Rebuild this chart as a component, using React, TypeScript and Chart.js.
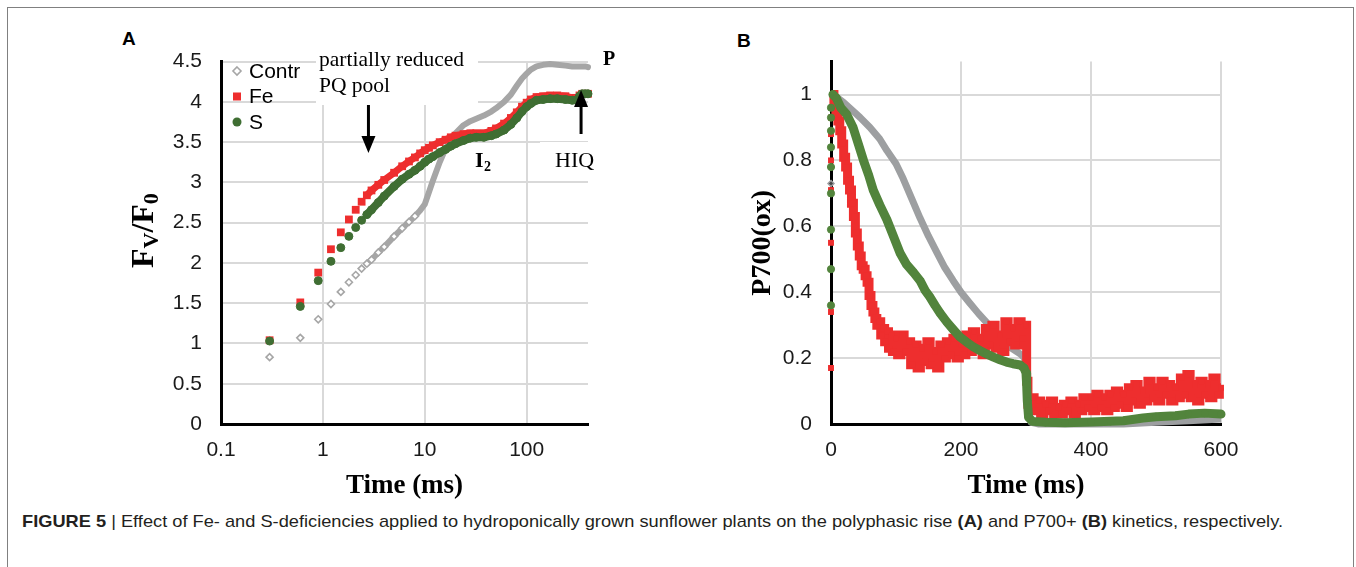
import React, { useEffect, useLayoutEffect, useRef } from 'react';
import { Chart, registerables } from 'chart.js';

Chart.register(...registerables);

const SANS = '"Liberation Sans", Arial, Helvetica, sans-serif';
const SERIF = '"Liberation Serif", "Times New Roman", Times, serif';
const GRID = '#d9d9d9';
const TICK = '#1a1a1a';

const GRAY_A = '#a6a6a6';
const RED = '#ee2e2e';
const GREEN_A = '#3f6e33';
const GRAY_B = '#9d9fa1';
const GREEN_B = '#52843c';

// ---------- Panel A: polyphasic fluorescence rise (log time) ----------
const timeA = [0.3, 0.6, 0.9, 1.2, 1.5, 1.8, 2.1, 2.4, 2.7, 3, 3.5, 4, 5, 6, 7, 8, 9, 10, 11, 12, 14, 16, 18, 20, 24, 28, 32, 38, 45, 50, 60, 70, 80, 90, 100, 110, 125, 145, 170, 200, 240, 280, 310, 330, 350, 375, 400];
const contrA = [0.83, 1.07, 1.30, 1.49, 1.64, 1.76, 1.85, 1.93, 1.99, 2.04, 2.13, 2.20, 2.33, 2.43, 2.51, 2.58, 2.65, 2.73, 2.88, 3.02, 3.25, 3.42, 3.53, 3.61, 3.71, 3.76, 3.79, 3.83, 3.88, 3.92, 4.00, 4.09, 4.20, 4.29, 4.35, 4.40, 4.44, 4.46, 4.47, 4.46, 4.45, 4.44, 4.44, 4.44, 4.44, 4.44, 4.43];
const feA = [1.04, 1.51, 1.88, 2.17, 2.38, 2.54, 2.66, 2.76, 2.84, 2.90, 2.97, 3.03, 3.12, 3.20, 3.26, 3.31, 3.36, 3.40, 3.43, 3.46, 3.50, 3.53, 3.56, 3.58, 3.60, 3.61, 3.61, 3.61, 3.64, 3.67, 3.73, 3.80, 3.87, 3.94, 3.99, 4.03, 4.06, 4.07, 4.08, 4.08, 4.07, 4.05, 4.04, 4.08, 4.10, 4.10, 4.10];
const sA = [1.03, 1.46, 1.78, 2.02, 2.19, 2.33, 2.44, 2.53, 2.60, 2.66, 2.75, 2.83, 2.95, 3.04, 3.10, 3.15, 3.20, 3.25, 3.29, 3.32, 3.37, 3.41, 3.45, 3.48, 3.52, 3.55, 3.56, 3.56, 3.58, 3.60, 3.65, 3.72, 3.80, 3.88, 3.94, 3.98, 4.02, 4.03, 4.04, 4.04, 4.03, 4.02, 4.02, 4.07, 4.10, 4.10, 4.10];
const xTicksA = [0.1, 1, 10, 100];
const arrowPQTime = 2.8;
const arrowHIQTime = 342;

// ---------- Panel B: P700 oxidation kinetics ----------
const contrBTime = [0, 3, 10, 20, 34, 45, 60, 75, 86, 100, 111, 125, 137, 150, 163, 175, 188, 200, 214, 227, 240, 252, 265, 278, 291, 298, 301, 304, 308, 320, 360, 400, 450, 500, 550, 600];
const contrB = [0.73, 1.0, 0.99, 0.975, 0.95, 0.93, 0.9, 0.865, 0.83, 0.79, 0.745, 0.68, 0.625, 0.57, 0.52, 0.475, 0.435, 0.4, 0.366, 0.335, 0.307, 0.278, 0.252, 0.23, 0.213, 0.2, 0.12, 0.03, 0.005, 0, 0, 0, 0, 0.005, 0.01, 0.015];

const feBTime = [
  0, 0, 0, 0, 0, 0, 0,
  3, 6, 9, 12, 15, 18, 21, 24, 27, 30, 33, 36, 39, 42, 45, 48, 51, 54, 57, 60, 63, 66, 69, 72, 75, 78, 81, 84, 87, 90, 93, 96,
  100, 105, 110, 115, 120, 125, 130, 135, 140, 145, 150, 155, 160, 165, 170, 175, 180, 185, 190, 195, 200, 205, 210, 215, 220, 225, 230, 235, 240, 245, 250, 255, 260, 265, 270, 275, 280, 285, 290, 295, 300,
  302, 304,
  310, 315, 320, 325, 330, 335, 340, 345, 350, 355, 360, 365, 370, 375, 380, 385, 390, 395, 400, 405, 410, 415, 420, 425, 430, 435, 440, 445, 450, 455, 460, 465, 470, 475, 480, 485, 490, 495, 500, 505, 510, 515, 520, 525, 530, 535, 540, 545, 550, 555, 560, 565, 570, 575, 580, 585, 590, 595, 600,
];
const feB = [
  0.17, 0.34, 0.55, 0.71, 0.80, 0.88, 0.93,
  1.00, 0.98, 0.95, 0.92, 0.89, 0.85, 0.81, 0.78, 0.74, 0.71, 0.67, 0.63, 0.58, 0.54, 0.51, 0.48, 0.47, 0.45, 0.43, 0.39, 0.36, 0.34, 0.32, 0.30, 0.31, 0.27, 0.29, 0.25, 0.28, 0.23, 0.27, 0.22,
  0.26, 0.21, 0.27, 0.22, 0.25, 0.18, 0.24, 0.17, 0.23, 0.19, 0.25, 0.18, 0.22, 0.17, 0.24, 0.20, 0.25, 0.21, 0.26, 0.20, 0.24, 0.21, 0.27, 0.22, 0.28, 0.23, 0.26, 0.21, 0.29, 0.24, 0.30, 0.23, 0.27, 0.22, 0.31, 0.25, 0.29, 0.24, 0.31, 0.26, 0.30,
  0.13, 0.06,
  0.08, 0.04, 0.07, 0.03, 0.06, 0.04, 0.07, 0.03, 0.05, 0.03, 0.06, 0.04, 0.07, 0.03, 0.06, 0.04, 0.08, 0.05, 0.08, 0.04, 0.09, 0.05, 0.08, 0.04, 0.09, 0.05, 0.10, 0.06, 0.09, 0.05, 0.11, 0.07, 0.12, 0.06, 0.10, 0.07, 0.13, 0.08, 0.11, 0.07, 0.13, 0.09, 0.12, 0.07, 0.11, 0.08, 0.14, 0.09, 0.15, 0.08, 0.12, 0.07, 0.13, 0.09, 0.12, 0.08, 0.14, 0.09, 0.11,
];

const sBTime = [0, 0, 0, 0, 0, 0, 0, 0, 0, 3, 8, 15, 24, 34, 42, 50, 58, 65, 75, 86, 96, 106, 116, 127, 137, 145, 152, 160, 168, 178, 188, 198, 209, 219, 229, 240, 250, 260, 270, 280, 291, 297, 300, 301, 302, 304, 310, 330, 360, 400, 430, 450, 480, 500, 530, 550, 575, 600];
const sB = [0.36, 0.47, 0.59, 0.70, 0.78, 0.84, 0.89, 0.93, 0.96, 1.0, 0.99, 0.96, 0.94, 0.9, 0.85, 0.8, 0.755, 0.71, 0.665, 0.62, 0.57, 0.52, 0.485, 0.46, 0.435, 0.405, 0.386, 0.36, 0.336, 0.31, 0.287, 0.265, 0.248, 0.234, 0.223, 0.212, 0.203, 0.195, 0.188, 0.183, 0.179, 0.17, 0.155, 0.12, 0.07, 0.02, 0.008, 0.005, 0.004, 0.006, 0.008, 0.01, 0.018, 0.022, 0.025, 0.03, 0.033, 0.03];

const legendLabels = ['Contr', 'Fe', 'S'];
const CAPTION_LEFT = 22;
const CAPTION_RIGHT = 1283;

const pts = (xs: number[], ys: number[]) => xs.map((x, i) => ({ x, y: ys[i] }));
const hideBefore = (limit: number, color: string) => ({
  borderColor: (c: any) => (c.p0.parsed.x < limit ? 'rgba(0,0,0,0)' : color),
});
const fmtTick = (v: any) => String(Math.round(Number(v) * 100) / 100);

function drawArrow(ctx: CanvasRenderingContext2D, x: number, y0: number, y1: number) {
  const dir = Math.sign(y1 - y0);
  const headLen = 16;
  const headHalf = 7;
  ctx.save();
  ctx.strokeStyle = '#000';
  ctx.fillStyle = '#000';
  ctx.lineWidth = 3;
  ctx.beginPath();
  ctx.moveTo(x, y0);
  ctx.lineTo(x, y1 - dir * headLen);
  ctx.stroke();
  ctx.beginPath();
  ctx.moveTo(x, y1);
  ctx.lineTo(x - headHalf, y1 - dir * (headLen + 1));
  ctx.lineTo(x + headHalf, y1 - dir * (headLen + 1));
  ctx.closePath();
  ctx.fill();
  ctx.restore();
}

const overlayA = {
  id: 'overlayA',
  beforeDatasetsDraw(chart: any) {
    const ctx = chart.ctx as CanvasRenderingContext2D;
    ctx.save();
    ctx.fillStyle = '#ffffff';
    ctx.fillRect(206, 8, 162, 67);
    ctx.fillRect(430, 112, 50, 36);
    ctx.restore();
  },
  afterDraw(chart: any) {
    const ctx = chart.ctx as CanvasRenderingContext2D;
    const xs = chart.scales.x;
    ctx.save();
    ctx.fillStyle = '#000';
    ctx.textAlign = 'left';
    ctx.textBaseline = 'alphabetic';
    ctx.font = `21.5px ${SERIF}`;
    ctx.fillText('partially reduced', 209, 36);
    ctx.fillText('PQ pool', 209, 62);
    ctx.font = `22px ${SERIF}`;
    ctx.fillText('HIQ', 445, 137);
    ctx.font = `bold 22px ${SERIF}`;
    ctx.fillText('I', 365, 137);
    ctx.font = `bold 14px ${SERIF}`;
    ctx.fillText('2', 374, 141);
    ctx.font = `bold 20px ${SERIF}`;
    ctx.fillText('P', 493, 35);

    drawArrow(ctx, xs.getPixelForValue(arrowPQTime), 75, 123);
    drawArrow(ctx, xs.getPixelForValue(arrowHIQTime), 104, 60);

    // legend
    const lx = 127;
    const tx = 139;
    const ly = [41, 66.5, 92];
    ctx.font = `21px ${SANS}`;
    ctx.textBaseline = 'middle';
    ctx.fillStyle = '#000';
    legendLabels.forEach((lab, i) => ctx.fillText(lab, tx, ly[i] + 1));
    ctx.strokeStyle = GRAY_A;
    ctx.lineWidth = 1.6;
    ctx.fillStyle = '#fff';
    ctx.beginPath();
    ctx.moveTo(lx, ly[0] - 4);
    ctx.lineTo(lx + 4, ly[0]);
    ctx.lineTo(lx, ly[0] + 4);
    ctx.lineTo(lx - 4, ly[0]);
    ctx.closePath();
    ctx.fill();
    ctx.stroke();
    ctx.fillStyle = RED;
    ctx.fillRect(lx - 4, ly[1] - 4, 8, 8);
    ctx.fillStyle = GREEN_A;
    ctx.beginPath();
    ctx.arc(lx, ly[2], 4.5, 0, Math.PI * 2);
    ctx.fill();

    // y title Fv/F0
    ctx.translate(43, 238);
    ctx.rotate(-Math.PI / 2);
    ctx.fillStyle = '#000';
    ctx.textBaseline = 'alphabetic';
    let x = 0;
    const big = `bold 32px ${SERIF}`;
    const small = `bold 22px ${SERIF}`;
    const part = (t: string, f: string, dy: number) => {
      ctx.font = f;
      ctx.fillText(t, x, dy);
      x += ctx.measureText(t).width;
    };
    part('F', big, 0);
    part('V', small, 5);
    part('/', big, 0);
    part('F', big, 0);
    part('0', small, 5);
    ctx.restore();
  },
};

const tickFont = { family: SANS, size: 21 };

function configA(): any {
  return {
    type: 'scatter',
    data: {
      datasets: [
        {
          label: 'S',
          data: pts(timeA, sA),
          showLine: true,
          borderColor: GREEN_A,
          borderWidth: 8,
          borderJoinStyle: 'round',
          borderCapStyle: 'round',
          segment: hideBefore(2.65, GREEN_A),
          pointStyle: 'circle',
          pointRadius: 4,
          pointBorderWidth: 1,
          pointBackgroundColor: GREEN_A,
          pointBorderColor: GREEN_A,
          clip: false,
        },
        {
          label: 'Fe',
          data: pts(timeA, feA),
          showLine: true,
          borderColor: RED,
          borderWidth: 7,
          borderJoinStyle: 'round',
          segment: hideBefore(2.65, RED),
          pointStyle: 'rect',
          pointRadius: 5.5,
          pointBorderWidth: 0,
          pointBackgroundColor: RED,
          pointBorderColor: RED,
          clip: false,
        },
        {
          label: 'Contr',
          data: pts(timeA, contrA),
          showLine: true,
          borderColor: GRAY_A,
          borderWidth: 6,
          borderJoinStyle: 'round',
          borderCapStyle: 'round',
          segment: hideBefore(2.65, GRAY_A),
          pointStyle: 'rectRot',
          pointRadius: (c: any) => (timeA[c.dataIndex] >= 9 ? 0 : 3.5),
          pointBorderWidth: 1.6,
          pointBackgroundColor: '#ffffff',
          pointBorderColor: GRAY_A,
          clip: false,
        },
      ],
    },
    options: {
      responsive: false,
      maintainAspectRatio: false,
      animation: false,
      events: [],
      layout: { padding: { left: 0, top: 20, right: 52, bottom: 0 } },
      plugins: { legend: { display: false }, tooltip: { enabled: false } },
      scales: {
        x: {
          type: 'logarithmic',
          min: 0.1,
          max: 400,
          afterBuildTicks: (s: any) => {
            s.ticks = xTicksA.map((v) => ({ value: v }));
          },
          afterFit: (s: any) => {
            s.height = 86;
          },
          ticks: {
            autoSkip: false,
            maxRotation: 0,
            font: tickFont,
            color: TICK,
            padding: 14,
            callback: (v: any) => String(v),
          },
          grid: { color: GRID, lineWidth: 2, drawTicks: false },
          border: { color: '#000', width: 3 },
          title: {
            display: true,
            text: 'Time (ms)',
            color: '#000',
            font: { family: SERIF, size: 27, weight: 'bold' },
            padding: { top: 0, bottom: 8 },
          },
        },
        y: {
          type: 'linear',
          min: 0,
          max: 4.5,
          afterFit: (s: any) => {
            s.width = 111;
          },
          ticks: { stepSize: 0.5, font: tickFont, color: TICK, padding: 19, callback: fmtTick },
          grid: { color: GRID, lineWidth: 2, drawTicks: false },
          border: { color: '#000', width: 3 },
        },
      },
    },
    plugins: [overlayA],
  };
}

function configB(): any {
  return {
    type: 'scatter',
    data: {
      datasets: [
        {
          label: 'S',
          data: pts(sBTime, sB),
          showLine: true,
          borderColor: GREEN_B,
          borderWidth: 9,
          borderJoinStyle: 'round',
          borderCapStyle: 'round',
          segment: hideBefore(0.5, GREEN_B),
          pointStyle: 'circle',
          pointRadius: 3.6,
          pointBorderWidth: 1,
          pointBackgroundColor: GREEN_B,
          pointBorderColor: GREEN_B,
          clip: false,
        },
        {
          label: 'Fe',
          data: pts(feBTime, feB),
          showLine: true,
          stepped: 'middle',
          borderColor: RED,
          borderWidth: 9,
          borderJoinStyle: 'miter',
          segment: hideBefore(0.5, RED),
          pointStyle: 'rect',
          pointRadius: 4.2,
          pointBorderWidth: 0,
          pointBackgroundColor: RED,
          pointBorderColor: RED,
          clip: false,
        },
        {
          label: 'Contr',
          data: pts(contrBTime, contrB),
          showLine: true,
          borderColor: GRAY_B,
          borderWidth: 7,
          borderJoinStyle: 'round',
          segment: hideBefore(0.5, GRAY_B),
          pointStyle: 'rectRot',
          pointRadius: (c: any) => (c.dataIndex === 0 ? 3 : 0),
          pointBorderWidth: 1.5,
          pointBackgroundColor: '#444',
          pointBorderColor: GRAY_B,
          clip: false,
        },
      ],
    },
    options: {
      responsive: false,
      maintainAspectRatio: false,
      animation: false,
      events: [],
      layout: { padding: { left: 0, top: 22, right: 39, bottom: 0 } },
      plugins: { legend: { display: false }, tooltip: { enabled: false } },
      scales: {
        x: {
          type: 'linear',
          min: 0,
          max: 600,
          afterFit: (s: any) => {
            s.height = 86;
          },
          ticks: { stepSize: 200, font: tickFont, color: TICK, padding: 14, maxRotation: 0 },
          grid: { color: GRID, lineWidth: 2, drawTicks: false },
          border: { color: '#000', width: 3 },
          title: {
            display: true,
            text: 'Time (ms)',
            color: '#000',
            font: { family: SERIF, size: 27, weight: 'bold' },
            padding: { top: 0, bottom: 8 },
          },
        },
        y: {
          type: 'linear',
          min: 0,
          max: 1.1,
          afterFit: (s: any) => {
            s.width = 111;
          },
          ticks: { stepSize: 0.2, includeBounds: false, font: tickFont, color: TICK, padding: 19, callback: fmtTick },
          grid: { color: GRID, lineWidth: 2, drawTicks: false },
          border: { color: '#000', width: 3 },
          title: {
            display: true,
            text: 'P700(ox)',
            color: '#000',
            font: { family: SERIF, size: 28, weight: 'bold' },
            padding: { top: 26, bottom: 0 },
          },
        },
      },
    },
  };
}

export default function App() {
  const refA = useRef<HTMLCanvasElement>(null);
  const refB = useRef<HTMLCanvasElement>(null);
  const capRef = useRef<HTMLDivElement>(null);

  useEffect(() => {
    const ca = new Chart(refA.current as HTMLCanvasElement, configA());
    const cb = new Chart(refB.current as HTMLCanvasElement, configB());
    return () => {
      ca.destroy();
      cb.destroy();
    };
  }, []);

  useLayoutEffect(() => {
    const el = capRef.current;
    if (!el) return;
    el.style.transform = 'none';
    const w = el.getBoundingClientRect().width;
    if (w > 0) el.style.transform = `scaleX(${(CAPTION_RIGHT - CAPTION_LEFT) / w})`;
  }, []);

  return (
    <div
      style={{
        position: 'absolute',
        left: 0,
        top: 0,
        width: 1356,
        height: 567,
        overflow: 'hidden',
        background: '#fff',
        fontFamily: SANS,
      }}
    >
      <div
        style={{
          position: 'absolute',
          left: 7,
          top: 7,
          width: 1347,
          height: 620,
          boxSizing: 'border-box',
          borderLeft: '1px solid #808080',
          borderTop: '1px solid #808080',
          borderRight: '1px solid #808080',
        }}
      />
      <div style={{ position: 'absolute', left: 122, top: 28.5, fontSize: 19, lineHeight: '19px', fontWeight: 'bold', color: '#000' }}>A</div>
      <div style={{ position: 'absolute', left: 737, top: 30.5, fontSize: 19, lineHeight: '19px', fontWeight: 'bold', color: '#000' }}>B</div>
      <canvas ref={refA} width={530} height={480} style={{ position: 'absolute', left: 110, top: 30, width: 530, height: 480 }} />
      <canvas ref={refB} width={540} height={480} style={{ position: 'absolute', left: 720, top: 30, width: 540, height: 480 }} />
      <div
        ref={capRef}
        style={{
          position: 'absolute',
          left: CAPTION_LEFT,
          top: 512,
          display: 'inline-block',
          whiteSpace: 'nowrap',
          fontSize: 17,
          lineHeight: '20px',
          color: '#231f20',
          transformOrigin: 'left center',
        }}
      >
        <b>FIGURE 5</b> | Effect of Fe- and S-deficiencies applied to hydroponically grown sunflower plants on the polyphasic rise <b>(A)</b> and P700+ <b>(B)</b> kinetics, respectively.
      </div>
    </div>
  );
}
